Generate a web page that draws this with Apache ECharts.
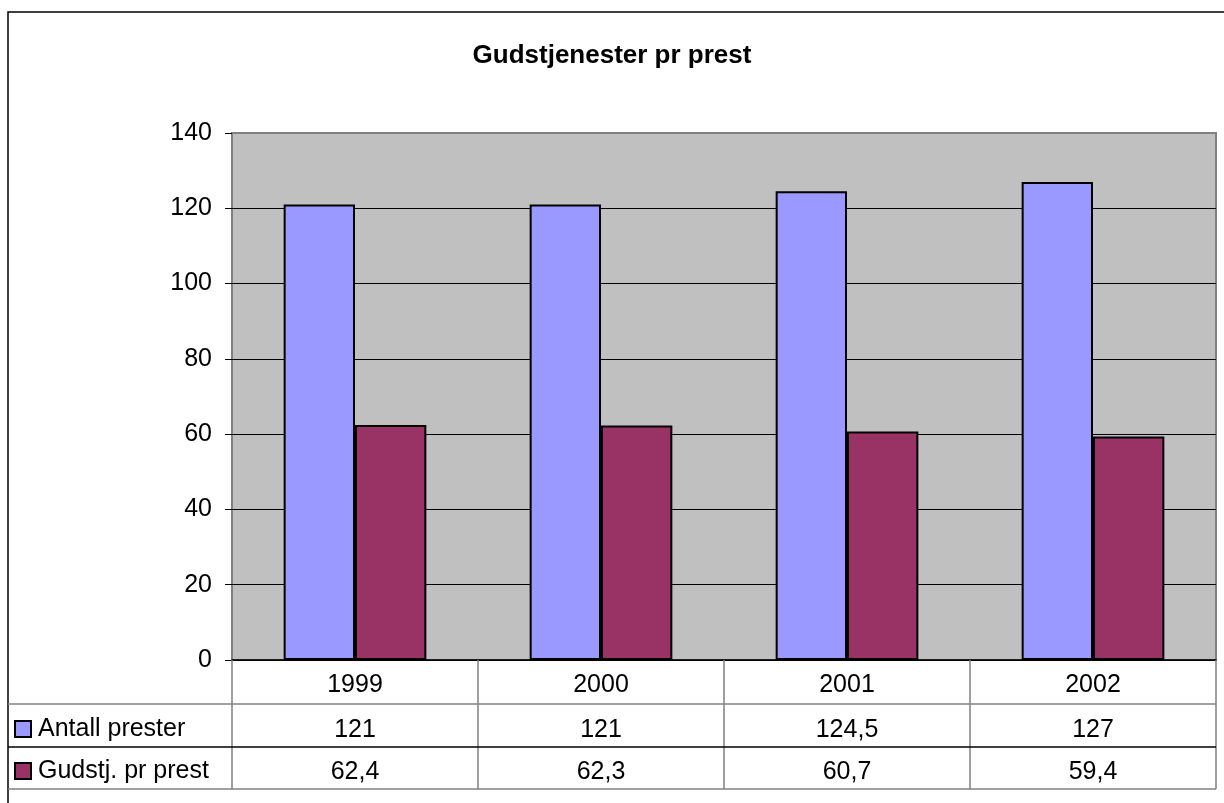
<!DOCTYPE html>
<html>
<head>
<meta charset="utf-8">
<script src="https://cdn.jsdelivr.net/npm/echarts@6/dist/echarts.min.js"></script>
<style>
  html, body { margin: 0; padding: 0; background: #fff; }
  #chart { width: 1224px; height: 803px; }
</style>
</head>
<body>
<div id="chart"></div>
<script>
// data
const years = ['1999', '2000', '2001', '2002']
const antallPrester = [121, 121, 124.5, 127]
const gudstjPrPrest = [62.4, 62.3, 60.7, 59.4]
const seriesNames = ['Antall prester', 'Gudstj. pr prest']
const seriesColors = ['#9999FF', '#993366']

const font = 'Arial, "Liberation Sans", sans-serif'
const fmt = v => String(v).replace('.', ',')

const chart = echarts.init(document.getElementById('chart'))

// table rows drawn as extra category axes under the grid
const rowAxis = (values, margin) => ({
  type: 'category',
  data: values.map(fmt),
  position: 'bottom',
  axisLine: { show: false },
  axisTick: { show: false },
  axisLabel: {
    margin: margin,
    verticalAlign: 'middle',
    color: '#000',
    fontSize: 25,
    fontFamily: font
  }
})

const option = {
  animation: false,
  backgroundColor: '#fff',
  title: {
    text: 'Gudstjenester pr prest',
    left: 'center',
    top: 38,
    textStyle: { fontSize: 26, fontWeight: 'bold', color: '#000', fontFamily: font }
  },
  grid: {
    left: 232,
    right: 8,
    top: 133,
    bottom: 143,
    show: true,
    backgroundColor: '#C0C0C0',
    borderColor: '#808080',
    borderWidth: 2
  },
  xAxis: [
    {
      type: 'category',
      data: years,
      axisLine: { lineStyle: { color: '#000', width: 1.5 } },
      axisTick: { show: true, length: 129, interval: 0, lineStyle: { color: '#808080', width: 1.5 } },
      axisLabel: { margin: 25, verticalAlign: 'middle', color: '#000', fontSize: 25, fontFamily: font }
    },
    rowAxis(antallPrester, 70),
    rowAxis(gudstjPrPrest, 112)
  ],
  yAxis: {
    type: 'value',
    min: 0,
    max: 140,
    interval: 20,
    axisLine: { show: false },
    axisTick: { show: true, length: 7, lineStyle: { color: '#000', width: 1 } },
    axisLabel: { margin: 20, color: '#000', fontSize: 25, fontFamily: font },
    splitLine: { showMaxLine: false, lineStyle: { color: '#000', width: 1 } }
  },
  series: [
    {
      name: seriesNames[0],
      type: 'bar',
      data: antallPrester,
      barGap: '0%',
      barCategoryGap: '42%',
      itemStyle: { color: seriesColors[0], borderColor: '#000', borderWidth: 2 }
    },
    {
      name: seriesNames[1],
      type: 'bar',
      data: gudstjPrPrest,
      barGap: '0%',
      barCategoryGap: '42%',
      itemStyle: { color: seriesColors[1], borderColor: '#000', borderWidth: 2 }
    }
  ]
}
chart.setOption(option)

// frame, table lines and legend keys
const hLine = (y, color) => ({
  type: 'line',
  shape: { x1: 8, y1: y, x2: 1216, y2: y },
  style: { stroke: color, lineWidth: 1.5 },
  z: 10
})
const key = (i, y) => [
  {
    type: 'rect',
    shape: { x: 15, y: y - 8, width: 16, height: 16 },
    style: { fill: seriesColors[i], stroke: '#000', lineWidth: 2 },
    z: 10
  },
  {
    type: 'text',
    x: 38,
    y: y,
    style: { text: seriesNames[i], fill: '#000', font: '25px ' + font, textVerticalAlign: 'middle' },
    z: 10
  }
]

chart.setOption({
  graphic: [
    {
      type: 'rect',
      shape: { x: 8, y: 12, width: 1240, height: 820 },
      style: { fill: 'none', stroke: '#000', lineWidth: 1.5 },
      z: 10
    },
    hLine(704, '#808080'),
    hLine(747, '#000'),
    hLine(789, '#808080'),
    ...key(0, 729),
    ...key(1, 771)
  ]
})
</script>
</body>
</html>
